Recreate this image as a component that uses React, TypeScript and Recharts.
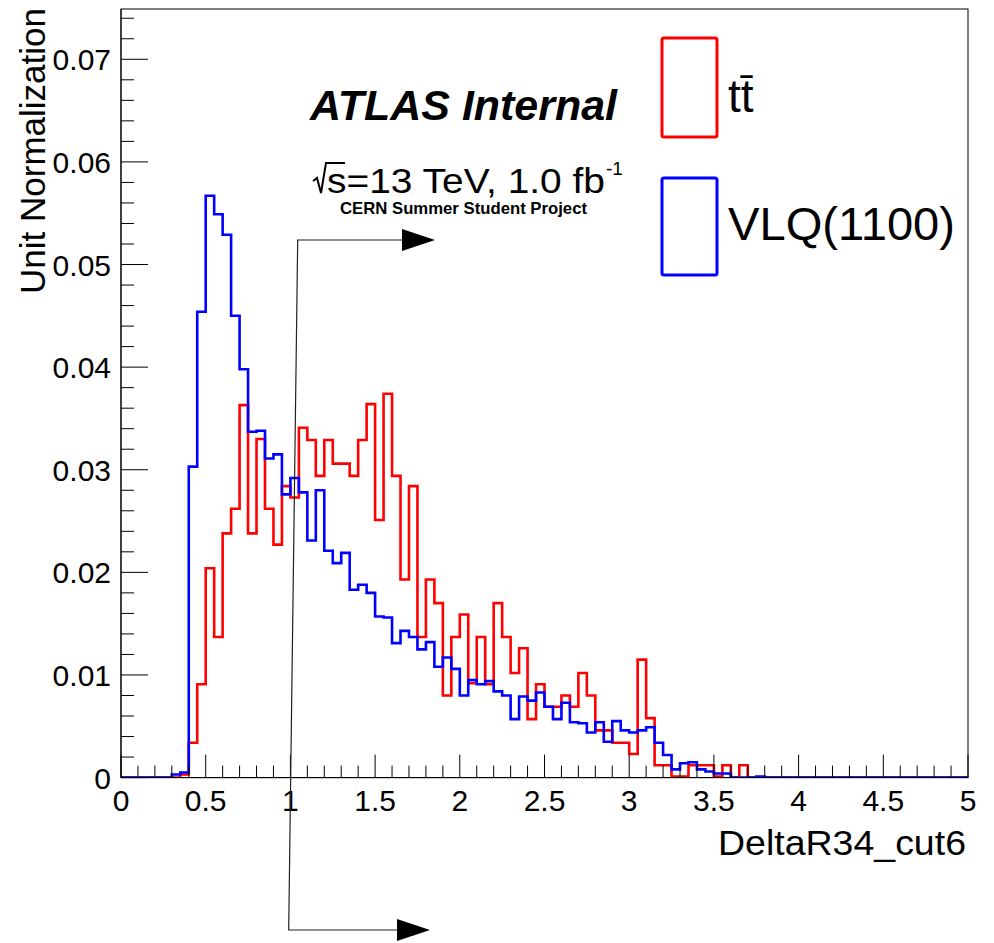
import React from "react";
import { LineChart, Line, XAxis, YAxis } from "recharts";

// DeltaR34_cut6, 100 bins of 0.05 from 0 to 5, unit normalised
const BIN_WIDTH = 0.05;

const ttbar = [
  0, 0, 0, 0, 0, 0, 0, 0.0003, 0.0034, 0.0091,
  0.0204, 0.0137, 0.0238, 0.0262, 0.0363, 0.0238, 0.033, 0.0262, 0.0227, 0.0284,
  0.0273, 0.0341, 0.0329, 0.0294, 0.0329, 0.0306, 0.0306, 0.0294, 0.0329, 0.0364,
  0.0251, 0.0374, 0.0294, 0.0193, 0.0284, 0.0137, 0.0193, 0.017, 0.008, 0.0137,
  0.0159, 0.0092, 0.0137, 0.0091, 0.017, 0.0137, 0.0102, 0.0126, 0.0057, 0.0091,
  0.0069, 0.0069, 0.008, 0.0069, 0.0102, 0.008, 0.0046, 0.0046, 0.0034, 0.0034,
  0.0023, 0.0115, 0.0058, 0.0012, 0.0012, 0.0001, 0.0001, 0.0012, 0.0012, 0.0012,
  0.0001, 0.0012, 0, 0.0012, 0, 0, 0, 0, 0, 0,
  0, 0, 0, 0, 0, 0, 0, 0, 0, 0,
  0, 0, 0, 0, 0, 0, 0, 0, 0, 0,
];

const vlq = [
  0, 0, 0, 0, 0, 0, 0.0003, 0.0005, 0.0303, 0.0454,
  0.0567, 0.0549, 0.0529, 0.045, 0.0398, 0.0337, 0.0338, 0.0311, 0.0315, 0.0276,
  0.0292, 0.0278, 0.0231, 0.028, 0.0221, 0.0209, 0.0219, 0.0183, 0.0188, 0.018,
  0.0157, 0.0156, 0.0131, 0.0143, 0.0137, 0.0125, 0.0132, 0.0108, 0.0117, 0.0106,
  0.008, 0.0095, 0.0091, 0.0094, 0.0084, 0.008, 0.0057, 0.0079, 0.0075, 0.0083,
  0.0069, 0.0057, 0.0073, 0.0054, 0.0053, 0.0044, 0.0054, 0.0035, 0.0055, 0.0046,
  0.0044, 0.0046, 0.0049, 0.0034, 0.0022, 0.0008, 0.0014, 0.0015, 0.0008, 0.0006,
  0.0004, 0.0004, 0, 0, 0, 0.0001, 0, 0, 0, 0,
  0, 0, 0, 0, 0, 0, 0, 0, 0, 0,
  0, 0, 0, 0, 0, 0, 0, 0, 0, 0,
];

const seriesNames = { ttbar: "t\u0074\u0304", vlq: "VLQ(1100)" };

const xTicks = Array.from({ length: 51 }, (_, i) => +(i * 0.1).toFixed(1));
const yTicks = Array.from({ length: 38 }, (_, i) => +(i * 0.002).toFixed(3));

// step histogram rows: one per bin low edge, plus closing edge at 5
const rows = ttbar.map((v, i) => ({ x: +(i * BIN_WIDTH).toFixed(2), ttbar: v, vlq: vlq[i] }));
rows.push({ x: 5, ttbar: ttbar[ttbar.length - 1], vlq: vlq[vlq.length - 1] });

const W = 994;
const H = 943;
const PLOT_LEFT = 121;
const PLOT_RIGHT = 968;
const PLOT_TOP = 9;
const PLOT_BOTTOM = 777.6;
const FONT = "'Liberation Sans', Arial, Helvetica, sans-serif";

function isMult(v: number, step: number) {
  return Math.abs(v / step - Math.round(v / step)) < 1e-6;
}

// ROOT style: ticks point into the frame
function YTick(props: any) {
  const { y, payload } = props;
  const v = payload.value as number;
  const major = isMult(v, 0.01);
  return (
    <g>
      <line x1={PLOT_LEFT} x2={PLOT_LEFT + (major ? 27 : 13)} y1={y} y2={y} stroke="#000" strokeWidth={1} />
      {major && (
        <text x={111} y={y + 11} textAnchor="end" fontSize={30} fontFamily={FONT} fill="#000">
          {v === 0 ? "0" : v.toFixed(2)}
        </text>
      )}
    </g>
  );
}

function XTick(props: any) {
  const { x, payload } = props;
  const v = payload.value as number;
  const major = isMult(v, 0.5);
  return (
    <g>
      <line x1={x} x2={x} y1={PLOT_BOTTOM} y2={PLOT_BOTTOM - (major ? 23 : 12)} stroke="#000" strokeWidth={1} />
      {major && (
        <text x={x} y={811} textAnchor="middle" fontSize={30} fontFamily={FONT} fill="#000">
          {String(v)}
        </text>
      )}
    </g>
  );
}

function Overlay() {
  return (
    <svg width={W} height={H} style={{ position: "absolute", left: 0, top: 0, pointerEvents: "none" }}>
      <rect x={PLOT_LEFT} y={PLOT_TOP} width={PLOT_RIGHT - PLOT_LEFT} height={PLOT_BOTTOM - PLOT_TOP} fill="none" stroke="#000" strokeWidth={1} />

      {/* axis titles */}
      <text x={45} y={8} transform="rotate(-90 45 8)" textAnchor="end" fontSize={35} fontFamily={FONT} fill="#000">
        Unit Normalization
      </text>
      <text x={966} y={855} textAnchor="end" fontSize={35} fontFamily={FONT} fill="#000" textLength={248} lengthAdjust="spacingAndGlyphs">
        DeltaR34_cut6
      </text>

      {/* ATLAS labels */}
      <text x={310} y={120} fontSize={42} fontWeight="bold" fontStyle="italic" fontFamily={FONT} fill="#000" textLength={307} lengthAdjust="spacingAndGlyphs">
        ATLAS Internal
      </text>
      <path d="M313,181 L317,178 L321,193 L326,163 L345,163" fill="none" stroke="#000" strokeWidth={2} />
      <text x={327} y={193} fontSize={35} fontFamily={FONT} fill="#000" textLength={278} lengthAdjust="spacingAndGlyphs">
        s=13 TeV, 1.0 fb
      </text>
      <text x={606} y={175} fontSize={19} fontFamily={FONT} fill="#000">-1</text>
      <text x={340} y={214} fontSize={17} fontWeight="bold" fontFamily={FONT} fill="#000" textLength={247} lengthAdjust="spacingAndGlyphs">
        CERN Summer Student Project
      </text>

      {/* legend */}
      <rect x={662} y={38} width={55} height={99} rx={2} fill="none" stroke="#ff0000" strokeWidth={3} />
      <text x={728} y={112} fontSize={46} fontFamily={FONT} fill="#000">{seriesNames.ttbar}</text>
      <rect x={662} y={178} width={55} height={97} rx={2} fill="none" stroke="#0000ff" strokeWidth={3} />
      <text x={728} y={240} fontSize={46} fontFamily={FONT} fill="#000" textLength={227} lengthAdjust="spacingAndGlyphs">
        {seriesNames.vlq}
      </text>

      {/* arrows */}
      <polyline points="403,240 297.7,240 288.7,930 398,930" fill="none" stroke="#222" strokeWidth={1.2} />
      <polygon points="402,229 435,240 402,251" fill="#000" />
      <polygon points="397,919 430,930 397,941" fill="#000" />
    </svg>
  );
}

export default function App() {
  return (
    <div style={{ position: "absolute", left: 0, top: 0, width: W, height: H, background: "#fff" }}>
      <LineChart
        width={W}
        height={H}
        data={rows}
        margin={{ top: PLOT_TOP, right: W - PLOT_RIGHT, bottom: H - PLOT_BOTTOM - 30, left: PLOT_LEFT - 60 }}
      >
        <XAxis
          dataKey="x"
          type="number"
          domain={[0, 5]}
          ticks={xTicks}
          interval={0}
          height={30}
          tickSize={0}
          tickMargin={0}
          tickLine={false}
          axisLine={{ stroke: "#000", strokeWidth: 1 }}
          tick={<XTick />}
          allowDataOverflow
        />
        <YAxis
          type="number"
          domain={[0, 0.0749]}
          ticks={yTicks}
          interval={0}
          width={60}
          tickSize={0}
          tickMargin={0}
          tickLine={false}
          axisLine={{ stroke: "#000", strokeWidth: 1 }}
          tick={<YTick />}
          allowDataOverflow
        />
        <Line
          type="stepAfter"
          dataKey="ttbar"
          name={seriesNames.ttbar}
          stroke="#ff0000"
          strokeWidth={2.6}
          strokeLinejoin="miter"
          dot={false}
          activeDot={false}
          isAnimationActive={false}
        />
        <Line
          type="stepAfter"
          dataKey="vlq"
          name={seriesNames.vlq}
          stroke="#0000ff"
          strokeWidth={2.6}
          strokeLinejoin="miter"
          dot={false}
          activeDot={false}
          isAnimationActive={false}
        />
      </LineChart>
      <Overlay />
    </div>
  );
}
